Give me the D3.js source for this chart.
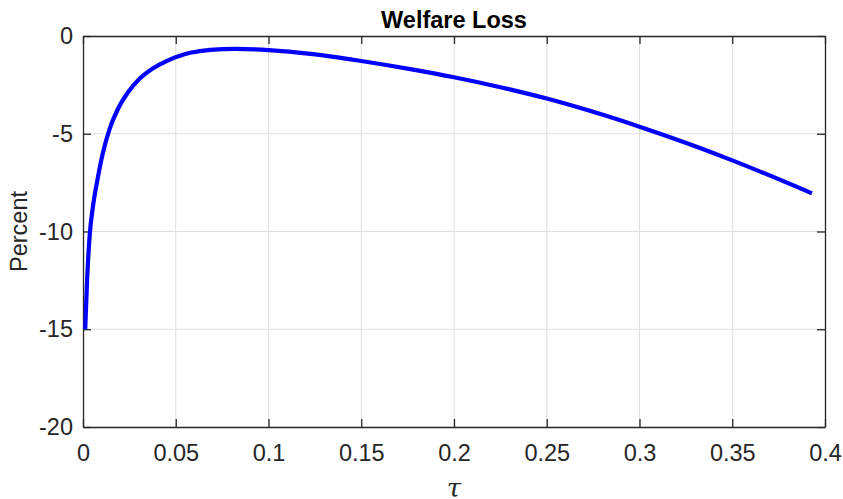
<!DOCTYPE html>
<html><head><meta charset="utf-8">
<script src="https://cdn.jsdelivr.net/npm/d3@7"></script>
<style>body{margin:0;background:#fff;} svg{display:block;}</style>
</head><body>
<svg id="chart" width="843" height="499"></svg>
<script>
const tau = [0.0012,0.0022,0.0036,0.0054,0.0078,0.0108,0.0144,0.0189,0.0243,0.0306,0.0378,0.045,0.053,0.0578,0.0686,0.082,0.1,0.124,0.15,0.178,0.2,0.225,0.25,0.275,0.3,0.326,0.35,0.393];
const welfare = [-15.0,-12.5,-10.2,-8.7,-7.35,-5.95,-4.74,-3.72,-2.88,-2.18,-1.65,-1.28,-0.98,-0.86,-0.71,-0.66,-0.72,-0.93,-1.28,-1.72,-2.11,-2.62,-3.20,-3.88,-4.64,-5.50,-6.36,-8.05];
const xTicks = [0,0.05,0.1,0.15,0.2,0.25,0.3,0.35,0.4];
const xTickLabels = ["0","0.05","0.1","0.15","0.2","0.25","0.3","0.35","0.4"];
const yTicks = [-20,-15,-10,-5,0];
const yTickLabels = ["-20","-15","-10","-5","0"];
const titleText = "Welfare Loss";
const xLabel = "τ";
const yLabel = "Percent";

const svg = d3.select("#chart");
const L = 83, R = 825, T = 36, B = 427;
const x = d3.scaleLinear().domain([0,0.4]).range([L,R]);
const y = d3.scaleLinear().domain([-20,0]).range([B,T]);
const axisColor = "#262626";
const font = "'Liberation Sans', Arial, Helvetica, sans-serif";

// grid
const g = svg.append("g");
g.selectAll(".gx").data(xTicks.slice(1,-1)).enter().append("line")
  .attr("x1",d=>x(d)).attr("x2",d=>x(d)).attr("y1",T).attr("y2",B)
  .attr("stroke","#dfdfdf").attr("stroke-width",1);
g.selectAll(".gy").data(yTicks.slice(1,-1)).enter().append("line")
  .attr("x1",L).attr("x2",R).attr("y1",d=>y(d)).attr("y2",d=>y(d))
  .attr("stroke","#dfdfdf").attr("stroke-width",1);

// axes via d3
const tickLen = 8;
const xb = svg.append("g").attr("transform",`translate(0,${B})`)
  .call(d3.axisBottom(x).tickValues(xTicks).tickFormat((d,i)=>xTickLabels[i]).tickSizeInner(-tickLen).tickSizeOuter(0).tickPadding(17));
const xt = svg.append("g").attr("transform",`translate(0,${T})`)
  .call(d3.axisTop(x).tickValues(xTicks).tickFormat("").tickSizeInner(-tickLen).tickSizeOuter(0));
const yl = svg.append("g").attr("transform",`translate(${L},0)`)
  .call(d3.axisLeft(y).tickValues(yTicks).tickFormat((d,i)=>yTickLabels[i]).tickSizeInner(-tickLen).tickSizeOuter(0).tickPadding(10));
const yr = svg.append("g").attr("transform",`translate(${R},0)`)
  .call(d3.axisRight(y).tickValues(yTicks).tickFormat("").tickSizeInner(-tickLen).tickSizeOuter(0));
[xb,xt,yl,yr].forEach(a=>{
  a.select(".domain").attr("stroke",axisColor).attr("stroke-width",1.3);
  a.selectAll(".tick line").attr("stroke",axisColor).attr("stroke-width",1.3);
  a.selectAll(".tick text").attr("fill",axisColor).style("font-family",font).style("font-size","23.5px");
});

// line
const line = d3.line().x((d,i)=>x(tau[i])).y(d=>y(d)).curve(d3.curveMonotoneX);
svg.append("path").datum(welfare).attr("d",line)
  .attr("fill","none").attr("stroke","#0000ff").attr("stroke-width",4.2).attr("stroke-linejoin","round");

// title
svg.append("text").attr("x",(L+R)/2).attr("y",28).attr("text-anchor","middle")
  .style("font-family",font).style("font-weight","bold").style("font-size","23.5px").attr("fill","#000").text(titleText);
// y label
svg.append("text").attr("transform",`translate(27,${(T+B)/2}) rotate(-90)`).attr("text-anchor","middle")
  .style("font-family",font).style("font-size","23.5px").attr("fill",axisColor).text(yLabel);
// x label
svg.append("text").attr("x",(L+R)/2).attr("y",497).attr("text-anchor","middle")
  .style("font-family","'DejaVu Serif', 'Liberation Serif', serif").style("font-style","italic").style("font-size","26px").attr("fill",axisColor).text(xLabel);
</script>
</body></html>
